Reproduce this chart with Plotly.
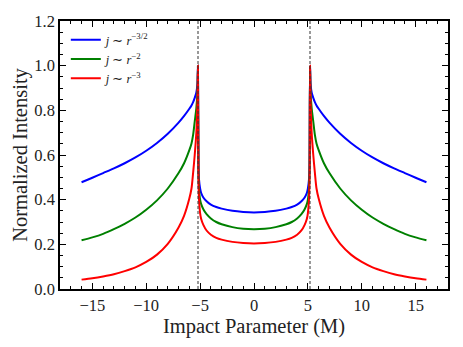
import plotly.graph_objects as go

# Impact parameter samples (M)
b = [-16, -15, -14, -13, -12, -11, -10, -9, -8, -7, -6.5, -6.0, -5.8, -5.65, -5.5, -5.35, -5.25,
     -5.2, -5.15, -5.1, -5.0, -4.9, -4.7, -4.4, -4.0, -3.5, -3.0, -2.0, -1.0,
     0,
     1.0, 2.0, 3.0, 3.5, 4.0, 4.4, 4.7, 4.9, 5.0, 5.1, 5.15, 5.2,
     5.25, 5.35, 5.5, 5.65, 5.8, 6.0, 6.5, 7, 8, 9, 10, 11, 12, 13, 14, 15, 16]

# j ~ r^-3/2
blue = [0.478, 0.498, 0.519, 0.540, 0.563, 0.589, 0.619, 0.654, 0.695, 0.745, 0.774, 0.807, 0.822, 0.837, 0.856, 0.88, 0.92,
        1.0, 0.56, 0.49, 0.45, 0.43, 0.41, 0.393, 0.378, 0.367, 0.360, 0.350, 0.345,
        0.343,
        0.345, 0.350, 0.360, 0.367, 0.378, 0.393, 0.41, 0.43, 0.45, 0.49, 0.56, 1.0,
        0.92, 0.88, 0.856, 0.837, 0.822, 0.807, 0.774, 0.745, 0.695, 0.654, 0.619, 0.589, 0.563, 0.540, 0.519, 0.498, 0.478]

# j ~ r^-2
green = [0.218, 0.231, 0.247, 0.268, 0.292, 0.320, 0.355, 0.397, 0.450, 0.519, 0.562, 0.622, 0.652, 0.69, 0.75, 0.81, 0.88,
         1.0, 0.53, 0.45, 0.40, 0.38, 0.357, 0.335, 0.316, 0.300, 0.290, 0.277, 0.270,
         0.268,
         0.270, 0.277, 0.290, 0.300, 0.316, 0.335, 0.357, 0.38, 0.40, 0.45, 0.53, 1.0,
         0.88, 0.81, 0.75, 0.69, 0.652, 0.622, 0.562, 0.519, 0.450, 0.397, 0.355, 0.320, 0.292, 0.268, 0.247, 0.231, 0.218]

# j ~ r^-3
red = [0.042, 0.048, 0.056, 0.066, 0.080, 0.097, 0.121, 0.154, 0.202, 0.275, 0.326, 0.405, 0.45, 0.52, 0.60, 0.70, 0.83,
       1.0, 0.49, 0.40, 0.34, 0.313, 0.287, 0.262, 0.243, 0.229, 0.221, 0.211, 0.206,
       0.204,
       0.206, 0.211, 0.221, 0.229, 0.243, 0.262, 0.287, 0.313, 0.34, 0.40, 0.49, 1.0,
       0.83, 0.70, 0.60, 0.52, 0.45, 0.405, 0.326, 0.275, 0.202, 0.154, 0.121, 0.097, 0.080, 0.066, 0.056, 0.048, 0.042]

# photon ring positions
ring = [-5.196, 5.196]

x_ticks = [-15, -10, -5, 0, 5, 10, 15]
y_ticks = [0, 0.2, 0.4, 0.6, 0.8, 1.0, 1.2]

series = [
    ("<i>j</i> ∼ <i>r</i><sup>−3/2</sup>", blue, "#0000ff"),
    ("<i>j</i> ∼ <i>r</i><sup>−2</sup>", green, "#008000"),
    ("<i>j</i> ∼ <i>r</i><sup>−3</sup>", red, "#ff0000"),
]

FONT = "Liberation Serif"

fig = go.Figure()

for name, ys, color in series:
    fig.add_trace(
        go.Scatter(
            x=b,
            y=ys,
            mode="lines",
            name=name,
            line=dict(color=color, width=2, shape="spline", smoothing=0.8),
        )
    )

# dashed photon-ring markers
for xr in ring:
    fig.add_vline(x=xr, line=dict(color="#333", width=1, dash="3px,2px"), layer="above")

tick_common = dict(
    showgrid=False,
    zeroline=False,
    showline=True,
    linecolor="black",
    linewidth=1.5,
    ticks="inside",
    ticklen=6,
    tickwidth=1.2,
    tickcolor="black",
    automargin=False,
)

# page body has an 8px margin, so the figure is a bit smaller than the window
fig.update_layout(
    width=455,
    height=339,
    margin=dict(l=52, r=15, t=13, b=58),
    plot_bgcolor="white",
    paper_bgcolor="white",
    font=dict(family=FONT, color="#222"),
    showlegend=True,
    legend=dict(
        x=0.015,
        y=0.985,
        xanchor="left",
        yanchor="top",
        bgcolor="rgba(0,0,0,0)",
        font=dict(family=FONT, size=12.5),
        tracegroupgap=0,
        itemwidth=30,
    ),
    xaxis=dict(
        tick_common,
        range=[-18, 18],
        tickvals=x_ticks,
        tickfont=dict(family=FONT, size=16.5, color="#222"),
        minor=dict(ticks="inside", dtick=1, ticklen=3, tickcolor="black", tickwidth=1),
        title=dict(text="Impact Parameter (M)", font=dict(family=FONT, size=20.5), standoff=1),
    ),
    yaxis=dict(
        tick_common,
        range=[0, 1.2],
        tickvals=y_ticks,
        tickformat=".1f",
        tickfont=dict(family=FONT, size=16.5, color="#222"),
        minor=dict(ticks="inside", dtick=0.05, ticklen=3, tickcolor="black", tickwidth=1),
        title=dict(text="Normalized Intensity", font=dict(family=FONT, size=20.5), standoff=1),
    ),
    # mirrored axes for top/right ticks
    xaxis2=dict(
        tick_common,
        overlaying="x",
        side="top",
        matches="x",
        tickvals=x_ticks,
        showticklabels=False,
        minor=dict(ticks="inside", dtick=1, ticklen=3, tickcolor="black", tickwidth=1),
    ),
    yaxis2=dict(
        tick_common,
        overlaying="y",
        side="right",
        matches="y",
        tickvals=y_ticks,
        showticklabels=False,
        minor=dict(ticks="inside", dtick=0.05, ticklen=3, tickcolor="black", tickwidth=1),
    ),
)

# invisible trace to activate the mirrored axes
fig.add_trace(
    go.Scatter(x=[b[0]], y=[red[0]], xaxis="x2", yaxis="y2", mode="lines",
               showlegend=False, hoverinfo="skip", line=dict(color="rgba(0,0,0,0)"))
)

fig.write_html("out.html")
